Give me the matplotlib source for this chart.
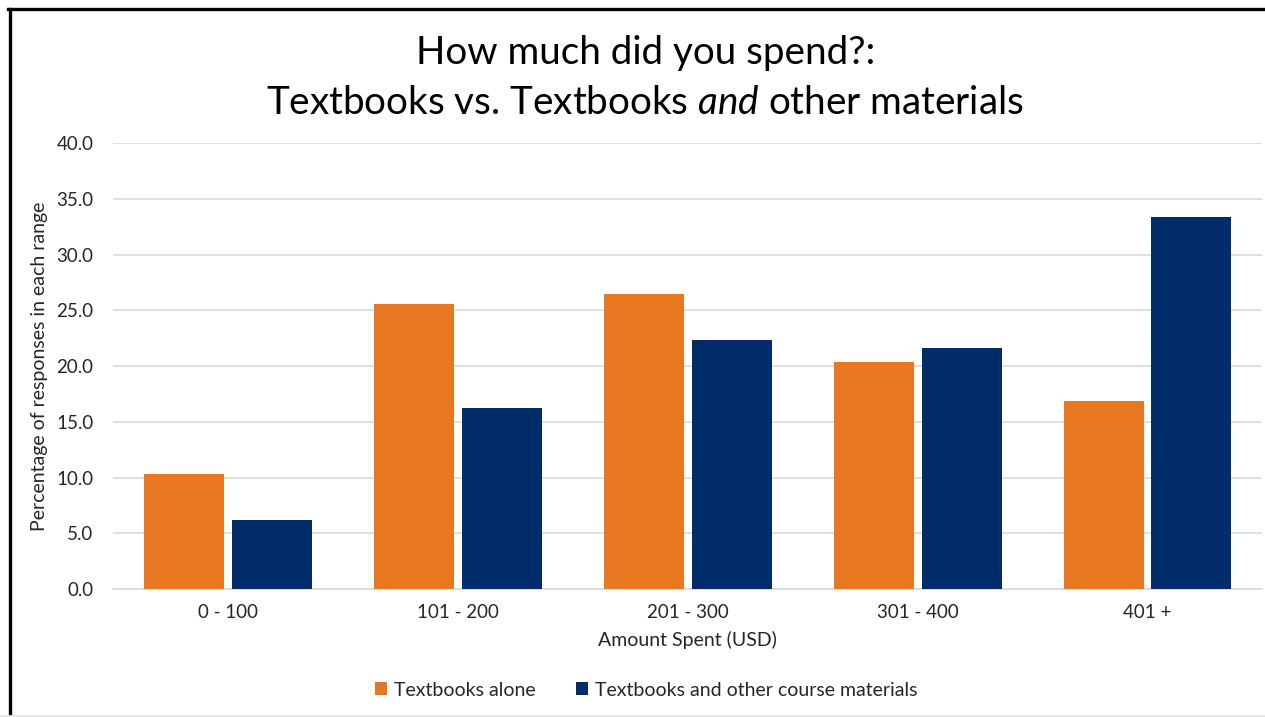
import numpy as np
import matplotlib.pyplot as plt
from matplotlib.lines import Line2D

# spending ranges and share of responses (%)
categories = ["0 - 100", "101 - 200", "201 - 300", "301 - 400", "401 +"]
textbooks_alone = [10.3, 25.6, 26.5, 20.4, 16.9]
textbooks_and_other = [6.2, 16.2, 22.3, 21.6, 33.4]
series_labels = ["Textbooks alone", "Textbooks and other course materials"]


def main():
    plt.rcParams["font.family"] = ["Lato", "DejaVu Sans"]
    plt.rcParams["mathtext.fontset"] = "custom"
    plt.rcParams["mathtext.rm"] = "Lato"
    plt.rcParams["mathtext.it"] = "Lato:italic"

    orange = "#E87722"
    navy = "#002D6A"
    grid = "#D9D9D9"
    txt = "#262626"

    fig = plt.figure(figsize=(12.65, 7.17), dpi=100)
    ax = fig.add_axes([0.0893, 0.1785, 0.9087, 0.622])

    x = np.arange(len(categories))
    w = 0.348
    off = 0.191
    ax.bar(x - off, textbooks_alone, w, color=orange, label=series_labels[0], zorder=3)
    ax.bar(x + off, textbooks_and_other, w, color=navy, label=series_labels[1], zorder=3)

    ax.set_xlim(-0.5, len(categories) - 0.5)
    ax.set_ylim(0, 40)
    ax.set_yticks(np.arange(0, 41, 5))
    ax.set_yticklabels([f"{v:.1f}" for v in np.arange(0, 41, 5)])
    ax.set_xticks(x)
    ax.set_xticklabels(categories)
    ax.tick_params(length=0, labelsize=13.5, colors=txt)
    ax.tick_params(axis="y", pad=14)
    ax.tick_params(axis="x", pad=11)
    ax.grid(axis="y", color=grid, linewidth=1.2, zorder=0)
    for s in ["top", "right", "left"]:
        ax.spines[s].set_visible(False)
    ax.spines["bottom"].set_color(grid)
    ax.spines["bottom"].set_linewidth(1.2)

    ax.set_xlabel("Amount Spent (USD)", fontsize=14, color=txt, labelpad=7)
    ax.set_ylabel("Percentage of responses in each range", fontsize=14, color=txt, labelpad=6)

    fig.text(0.51, 0.926, "How much did you spend?:", ha="center", va="center", fontsize=27.8)
    fig.text(0.51, 0.856, r"Textbooks vs. Textbooks $\mathit{and}$ other materials",
             ha="center", va="center", fontsize=27.8)

    fig.legend(loc="center", bbox_to_anchor=(0.511, 1 - 690 / 717), ncol=2, frameon=False,
               fontsize=14, handlelength=0.6, handleheight=0.6, handletextpad=0.35,
               columnspacing=2.1, labelcolor=txt)

    # black frame on the left and top, faint line at the bottom
    fig.add_artist(Line2D([9.5 / 1265, 9.5 / 1265], [0, 1 - 9 / 717], color="black",
                          linewidth=2.4, transform=fig.transFigure))
    fig.add_artist(Line2D([8 / 1265, 1], [1 - 9 / 717, 1 - 9 / 717], color="black",
                          linewidth=2.4, transform=fig.transFigure))
    fig.add_artist(Line2D([0, 1], [1.5 / 717, 1.5 / 717], color="#E6E6E6",
                          linewidth=2, transform=fig.transFigure))

    fig.savefig("out.png", dpi=100)


if __name__ == "__main__":
    main()
